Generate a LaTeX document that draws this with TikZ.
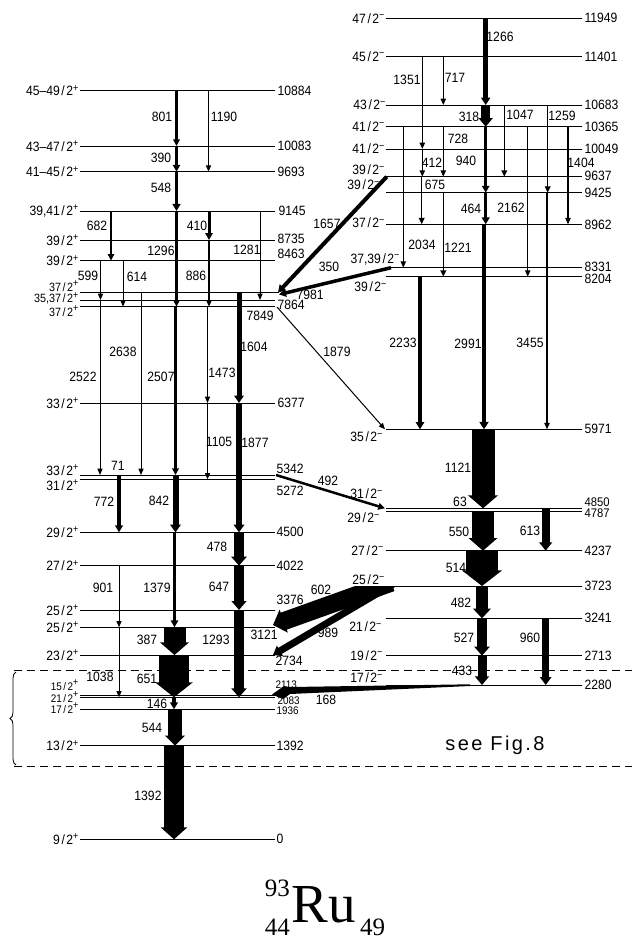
\documentclass[tikz,border=0pt]{standalone}
\usepackage{fontspec}
\setsansfont{Liberation Sans}[FakeStretch=0.9]
\newfontfamily\ttlfont{Liberation Serif}
\newfontfamily\figfont[LetterSpace=12]{Liberation Sans}
\usetikzlibrary{arrows.meta,decorations.pathreplacing}
\newcommand{\pp}{\raisebox{4.6pt}{\fontsize{10}{10}\selectfont +}}
\newcommand{\mm}{\raisebox{4.6pt}{\fontsize{10}{10}\selectfont −}}
\newcommand{\sla}{\kern1.6pt/\kern1.6pt}
% left level: y, spin y, energy x, energy y, energy, spin
\newcommand{\levl}[6]{%
  \draw[lev] (80,#1) -- (275,#1);
  \node[spin,anchor=east] (s#5) at (79,#2) {#6};
  \node[en,anchor=west] (e#5) at (#3,#4) {#5};}
% right level: y, spin x, spin y, energy y, energy, spin
\newcommand{\levr}[6]{%
  \draw[lev] (386,#1) -- (582,#1);
  \node[spin,anchor=east] (s#5) at (#2,#3) {#6};
  \node[en,anchor=west] (e#5) at (584,#4) {#5};}

\begin{document}
\begin{tikzpicture}[x=1pt,y=-1pt,
  font=\sffamily\fontsize{13.5}{15}\selectfont,
  lev/.style={line width=0.9pt},
  spin/.style={inner sep=0.3pt},
  en/.style={inner sep=0.3pt},
  small/.style={font=\sffamily\fontsize{11}{12}\selectfont},
  tight/.style={font=\sffamily\fontsize{12}{13}\selectfont},
  glab/.style={inner sep=0pt},
  gam/.style={-{Triangle[length=6pt 0.3,width=4pt 1.1]}}
]
  \useasboundingbox (0,0) rectangle (632,940);

  \levl{90.7}{90.7}{277}{90.7}{10884}{45–49\sla 2\pp}
  \levl{146}{146}{277}{146}{10083}{43–47\sla 2\pp}
  \levl{171.7}{171.7}{277}{171.7}{9693}{41–45\sla 2\pp}
  \levl{211}{211}{278}{211}{9145}{39,41\sla 2\pp}
  \levl{240}{240}{277}{239}{8735}{39\sla 2\pp}
  \levl{260.7}{260.7}{277}{254}{8463}{39\sla 2\pp}
  \levl{403}{403}{277}{403}{6377}{33\sla 2\pp}
  \levl{475}{470}{276}{469}{5342}{33\sla 2\pp}
  \levl{479.3}{485}{276}{491}{5272}{31\sla 2\pp}
  \levl{532.3}{532.3}{276}{532.3}{4500}{29\sla 2\pp}
  \levl{565.7}{565.7}{276}{565.7}{4022}{27\sla 2\pp}
  \levl{610}{610}{276}{600}{3376}{25\sla 2\pp}
  \levl{627.3}{627.3}{250}{635}{3121}{25\sla 2\pp}
  \levl{655}{655}{275}{661}{2734}{23\sla 2\pp}
  \levl{745.7}{745.7}{276}{745.7}{1392}{13\sla 2\pp}
  \levl{839.3}{839.3}{276}{839.3}{0}{9\sla 2\pp}
  \draw[lev] (80,292.7) -- (279,292.7);
  \draw[lev] (80,300) -- (275,300);
  \draw[lev] (80,306.7) -- (275,306.7);
  \node[spin,tight,anchor=east] (s7981) at (79,286) {37\sla 2\pp};
  \node[spin,tight,anchor=east] (s7864) at (79,298.5) {35,37\sla 2\pp};
  \node[spin,tight,anchor=east] (s7849) at (79,311) {37\sla 2\pp};
  \node[en,anchor=west] (e7981) at (296,295) {7981};
  \node[en,anchor=west] (e7864) at (277,305) {7864};
  \node[en,anchor=west] (e7849) at (246,316) {7849};
  \draw[lev] (80,695) -- (275,695);
  \draw[lev] (80,697.3) -- (275,697.3);
  \draw[lev] (80,709.3) -- (275,709.3);
  \node[spin,small,anchor=east] (s2113) at (79,685) {15\sla 2\pp};
  \node[spin,small,anchor=east] (s2083) at (79,697) {21\sla 2\pp};
  \node[spin,small,anchor=east] (s1936) at (79,708) {17\sla 2\pp};
  \node[en,small,anchor=west] (e2113) at (275,685) {2113};
  \node[en,small,anchor=west] (e2083) at (277,700.5) {2083};
  \node[en,small,anchor=west] (e1936) at (276,711) {1936};

  \levr{18.3}{385}{18.3}{18.3}{11949}{47\sla 2\mm}
  \levr{56.7}{385}{56.7}{56.7}{11401}{45\sla 2\mm}
  \levr{105}{386}{105}{105}{10683}{43\sla 2\mm}
  \levr{126.7}{385}{126.7}{126.7}{10365}{41\sla 2\mm}
  \levr{149}{385}{149}{149}{10049}{41\sla 2\mm}
  \levr{176.7}{385}{170}{176}{9637}{39\sla 2\mm}
  \levr{192.7}{380}{185}{193}{9425}{39\sla 2\mm}
  \levr{224.3}{385}{223}{225}{8962}{37\sla 2\mm}
  \levr{267.7}{400}{259}{267}{8331}{37,39\sla 2\mm}
  \levr{276.7}{387}{287}{279}{8204}{39\sla 2\mm}
  \levr{429.3}{383}{437}{429.3}{5971}{35\sla 2\mm}
  \levr{550.7}{384}{550.7}{550.7}{4237}{27\sla 2\mm}
  \levr{586}{385}{580}{586}{3723}{25\sla 2\mm}
  \levr{618.3}{382}{627}{618.3}{3241}{21\sla 2\mm}
  \levr{655.7}{383}{655.7}{655.7}{2713}{19\sla 2\mm}
  \levr{685}{383}{678}{685}{2280}{17\sla 2\mm}
  \draw[lev] (386,508.3) -- (582,508.3);
  \draw[lev] (386,511.7) -- (582,511.7);
  \node[spin,anchor=east] (s4850) at (383,494) {31\sla 2\mm};
  \node[spin,anchor=east] (s4787) at (380,518) {29\sla 2\mm};
  \node[en,anchor=west,font=\sffamily\fontsize{12.5}{13}\selectfont] (e4850) at (584,502) {4850};
  \node[en,anchor=west,font=\sffamily\fontsize{12.5}{13}\selectfont] (e4787) at (584,513.5) {4787};

  \draw[dash pattern=on 8pt off 5pt,line width=0.9pt] (14,670) -- (632,670);
  \draw[dash pattern=on 8pt off 5pt,line width=0.9pt] (14,766.7) -- (632,766.7);
  \draw[decorate,decoration={brace,amplitude=6pt},line width=0.8pt] (16,765) -- (16,672);
  \node[font=\figfont\fontsize{20}{23}\selectfont] (fig) at (495,745) {see Fig.8};

  \foreach \e/\x/\ya/\yb/\w/\lx/\ly in {
      801/176.5/90.7/146/2.5/162/117, 1190/208.5/90.7/171.7/1/224/117,
      390/176.5/146/171.7/3/161/158, 548/176.5/171.7/211/3.5/161/188,
      682/111/211/260.7/2/97/226, 410/209/211/240/3/197/226,
      1296/176.5/211/306.7/2.2/161/251, 1281/260/211/300/1/247/250,
      886/209/240/306.7/1.2/196/276, 599/100.5/260.7/300/1/88/276,
      614/123/260.7/306.7/1/137/277, 2522/100/300/475/1/83/377,
      2638/141/292.7/475/1/123/352, 2507/175.5/306.7/475/2.5/161/377,
      1473/207.5/306.7/403/1/222/373, 1105/207.5/403/479.3/1/219/442,
      1604/239/292.7/403/5/254/347, 1877/239/403/532.3/6/255/443,
      772/119/475/532.3/3.5/104/502, 842/175.5/475/532.3/6/159/501,
      478/239/532.3/565.7/10/217/547, 647/239/565.7/610/9.5/219/587,
      1293/239/610/697.3/10/216/640, 901/119/565.7/627.3/1/103/588,
      1379/174.5/532.3/627.3/3/157/588, 1038/119/627.3/697.3/1/100/677,
      387/174.5/627.3/655/22/147/640, 651/174/655/697.3/30/147/679,
      146/174/697.3/709.3/3.5/157/704, 544/175/709.3/745.7/14/152/728,
      1392/174/745.7/839.3/20/148/796,
      1266/485.7/18.3/105/4.5/500/37, 1351/422.3/56.7/149/1.2/407/80,
      717/443.3/56.7/105/1.2/455/78, 318/485.7/105/126.7/9/469/117,
      1047/504.3/105/176.7/1.5/520/115, 1259/547.7/105/192.7/1.5/562/116,
      728/443.3/126.7/176.7/1.2/458/139, 940/485.7/126.7/192.7/3/466/161,
      412/422.3/149/176.7/1.2/432/163, 1404/568/126.7/224.3/1.2/581/163,
      2034/403.3/126.7/267.7/1.2/422/245, 2162/527.7/126.7/276.7/1.2/511/208,
      675/421.7/176.7/224.3/1.5/435/185, 1221/443.3/192.7/276.7/1.5/458/248,
      464/485.7/192.7/224.3/3.5/471/209, 3455/547/192.7/429.3/1.2/530/343,
      2233/420/276.7/429.3/4/403/343, 2991/484/224.3/429.3/4.5/468/344,
      1121/483/429.3/508.3/23/458/468, 550/483/511.7/550.7/22/459/532,
      613/545.7/508.3/550.7/8/530/531, 514/482/550.7/586/32/456/568,
      482/482/586/618.3/12/461/603, 527/482/618.3/655.7/10/464/638,
      960/545.7/618.3/685/6.5/530/638, 433/482/655.7/685/9/462/671}
  {
    \draw[gam,line width=\w pt] (\x,\ya) -- (\x,\yb);
    \node[glab] (g\e) at (\lx,\ly) {\e};
  }
  \node[glab] (g71) at (118,466) {71};
  \node[glab] (g63) at (460,502) {63};

  \draw[gam,line width=4pt] (386.7,176.7) -- (278,292.5);
  \draw[gam,line width=3.5pt] (391,267.7) -- (279,294.5);
  \draw[gam,line width=1pt] (277,307) -- (385,429.3);
  \draw[gam,line width=2.5pt] (276,475) -- (385,508.3);
  \begin{scope}
    \clip (250,586.5) rectangle (632,700);
    \draw[gam,line width=18pt] (391.4,582.6) -- (273,625);
    \draw[gam,line width=7pt] (398.6,580.9) -- (273,655);
  \end{scope}
  \fill (470,684.3) -- (290,687) -- (284,686) -- (272,694.5) -- (283,699)
    -- (290,694) -- (470,686) -- cycle;
  \node[glab] (g1657) at (327,224) {1657};
  \node[glab] (g350) at (329,267) {350};
  \node[glab] (g1879) at (337,352) {1879};
  \node[glab] (g492) at (328,481) {492};
  \node[glab] (g602) at (321,590) {602};
  \node[glab] (g989) at (328,633) {989};
  \node[glab] (g168) at (326,700) {168};

  \node[anchor=base west,inner sep=0pt,font=\ttlfont\fontsize{55}{60}\selectfont] (ru) at (291.5,922.7) {Ru};
  \node[anchor=base east,inner sep=0pt,font=\ttlfont\fontsize{25}{28}\selectfont] (mass) at (290,896.7) {93};
  \node[anchor=base east,inner sep=0pt,font=\ttlfont\fontsize{25}{28}\selectfont] (charge) at (290,935) {44};
  \node[anchor=base west,inner sep=0pt,font=\ttlfont\fontsize{25}{28}\selectfont] (neutron) at (360,935) {49};
\end{tikzpicture}
\end{document}
